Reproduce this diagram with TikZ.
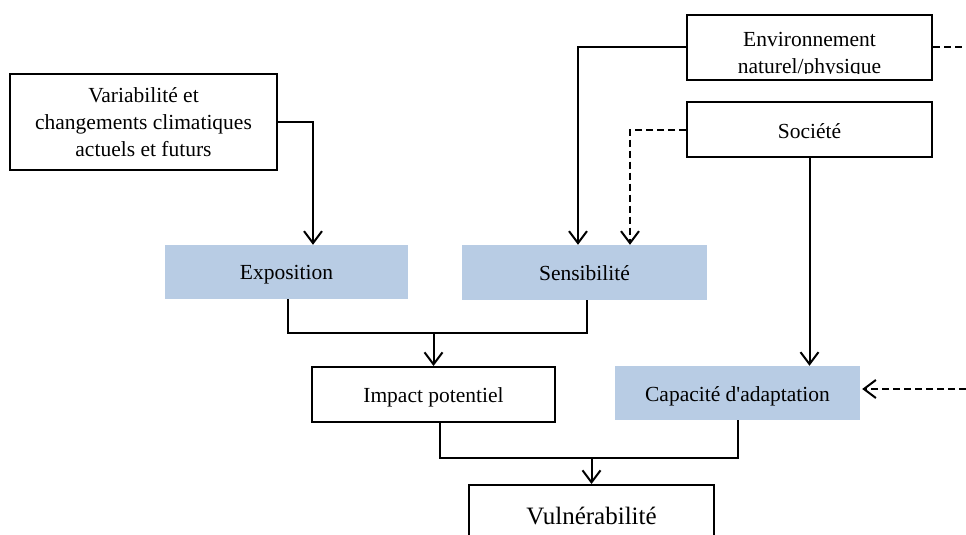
\documentclass[tikz,border=0pt]{standalone}
\usepackage{fontspec}
\setmainfont{Liberation Serif}[Ligatures=TeXOff]
\usetikzlibrary{arrows.meta}
\definecolor{boxblue}{HTML}{B8CCE4}
\tikzset{
  every node/.style={font=\fontsize{21.5}{27}\selectfont, align=center, inner sep=0pt},
  plainbox/.style={draw=black, line width=2pt, fill=white},
  bluebox/.style={fill=boxblue},
  conn/.style={line width=2pt},
  arr/.style={conn, -{Straight Barb[length=12pt,width=18pt]}},
  dashline/.style={conn, dash pattern=on 7pt off 4pt}
}
\begin{document}
\begin{tikzpicture}[x=1pt,y=-1pt]
\useasboundingbox (0,0) rectangle (966,535);
\clip (0,0) rectangle (966,535);

% boxes
\node[plainbox, minimum width=267, minimum height=96, text depth=0pt] (var) at (143.5,122)
  {Variabilité et\\changements climatiques\\actuels et futurs};
\node[plainbox, minimum width=245, minimum height=65] (env) at (809.5,47.5) {};
\begin{scope}
  \clip (687,15) rectangle (932,73);
  \node[anchor=base] (envA) at (809.5,47) {Environnement};
  \node[anchor=base] (envB) at (809.5,74) {naturel/physique};
\end{scope}
\node[plainbox, minimum width=245, minimum height=55] (soc) at (809.5,129.5) {};
\node[anchor=base] (socT) at (809.5,138) {Société};

\node[bluebox, minimum width=243, minimum height=54] (expo) at (286.5,272) {};
\node[anchor=base] (expoT) at (286.5,279) {Exposition};
\node[bluebox, minimum width=245, minimum height=55] (sens) at (584.5,272.5) {};
\node[anchor=base] (sensT) at (584.5,280) {Sensibilité};
\node[plainbox, minimum width=243, minimum height=55] (imp) at (433.5,394.5) {};
\node[anchor=base] (impT) at (433.5,402) {Impact potentiel};
\node[bluebox, minimum width=245, minimum height=54] (capa) at (737.5,393) {};
\node[anchor=base] (capaT) at (737.5,401) {Capacité d'adaptation};
\node[plainbox, minimum width=245, minimum height=62] (vuln) at (591.5,516) {};
\node[anchor=base, font=\fontsize{25}{28}\selectfont] (vulnT) at (591.5,524) {Vulnérabilité};

% junction points
\coordinate (j1) at (433.5,333);
\coordinate (j2) at (591.5,458);
\coordinate (envOut) at (966,47.5);
\coordinate (capaIn) at (966,389);

% connectors
\draw[arr] (var.east) -| ([xshift=26.5]expo.north);
\draw[arr] (env.west) -| ([xshift=-6.5]sens.north);
\draw[arr, dash pattern=on 7pt off 4pt] (soc.west) -| ([xshift=45.5]sens.north);
\draw[arr] (soc.south) -- (soc.south |- capa.north);
\draw[dashline] (env.east) -- (envOut);
\draw[arr, dash pattern=on 7pt off 4pt] (capaIn) -- ([xshift=2,yshift=4]capa.east);

\draw[conn] ([xshift=1.5]expo.south) |- (j1);
\draw[conn] (j1) -| ([xshift=2.5]sens.south);
\draw[arr] (j1) -- (imp.north);

\draw[conn] ([xshift=6.5]imp.south) |- (j2);
\draw[conn] (j2) -| (capa.south);
\draw[arr] (j2) -- (vuln.north);
\end{tikzpicture}
\end{document}
